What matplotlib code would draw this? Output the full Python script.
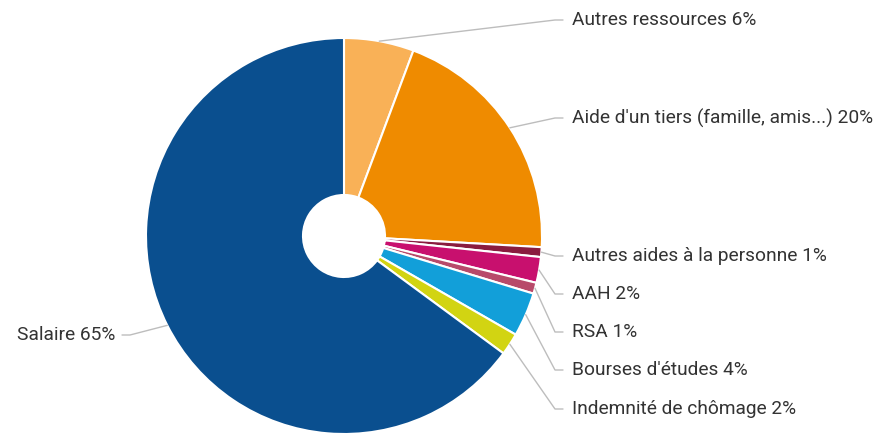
import numpy as np
import matplotlib.pyplot as plt

# Données (parts en %)
categories = ["Autres ressources", "Aide d'un tiers (famille, amis...)",
              "Autres aides à la personne", "AAH", "RSA",
              "Bourses d'études", "Indemnité de chômage", "Salaire"]
valeurs = [5.7, 20.2, 0.8, 2.1, 0.9, 3.6, 1.8, 64.9]
etiquettes_pct = ["6%", "20%", "1%", "2%", "1%", "4%", "2%", "65%"]
couleurs = ["#f9b157", "#ef8b00", "#8a1c3f", "#c8106e", "#b84a6a",
            "#129fd9", "#d2d412", "#0a4f8f"]

# mise en page (pixels de l'image, y vers le bas)
W, H = 877, 434
cx, cy, R, r_trou = 344, 236, 198, 41
label_y = [20, 118, 256, 294, 332, 370, 409, 335]
texte_x_droite = 572
texte_x_gauche = 115

fig = plt.figure(figsize=(W / 100, H / 100), dpi=100)
ax = fig.add_axes([0, 0, 1, 1])

ax.pie(valeurs, colors=couleurs, startangle=90, counterclock=False,
       center=(cx, H - cy), radius=R,
       wedgeprops=dict(width=R - r_trou, edgecolor="white", linewidth=1.5))

# étiquettes + lignes de rappel
total = sum(valeurs)
cumul = 0
for nom, v, pct, ly in zip(categories, valeurs, etiquettes_pct, label_y):
    milieu = (cumul + v / 2) / total * 2 * np.pi
    cumul += v
    ex = cx + R * np.sin(milieu)
    ey = cy - R * np.cos(milieu)
    if ex > cx:
        xs = [ex, texte_x_droite - 17, texte_x_droite - 9]
        tx, ha = texte_x_droite, "left"
    else:
        xs = [ex, texte_x_gauche + 15, texte_x_gauche + 7]
        tx, ha = texte_x_gauche, "right"
    ys = [H - ey, H - ly, H - ly]
    ax.plot(xs, ys, color="#bdbdbd", lw=1, solid_capstyle="round")
    ax.text(tx, H - ly, f"{nom} {pct}", ha=ha, va="center", fontsize=13.8,
            family=["Roboto", "DejaVu Sans"], color="#333333")

ax.set_xlim(0, W)
ax.set_ylim(0, H)
ax.set_aspect("auto")
ax.axis("off")

fig.savefig("out.png", dpi=100, facecolor="white")
